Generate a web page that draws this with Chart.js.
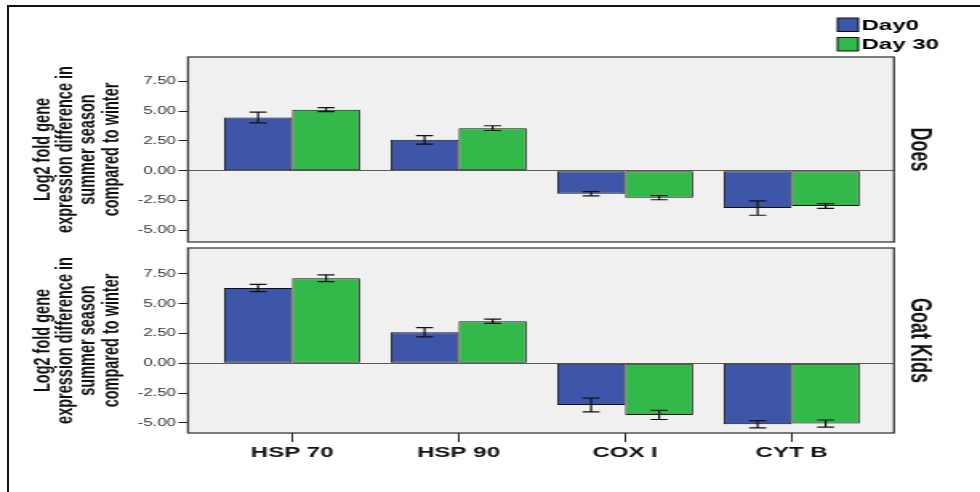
<!DOCTYPE html>
<html>
<head>
<meta charset="utf-8">
<script src="https://cdn.jsdelivr.net/npm/chart.js@4.4.1/dist/chart.umd.min.js"></script>
<style>
  html, body { margin: 0; padding: 0; background: #fff; }
  #fig { position: relative; width: 980px; height: 492px; overflow: hidden; background: #fff; }
  #frame { position: absolute; left: 7px; top: 5px; width: 1000px; height: 500px;
           border-top: 2px solid #111; border-left: 2px solid #111; box-sizing: border-box; }
  canvas { position: absolute; left: 0; }
</style>
</head>
<body>
<div id="fig">
  <div id="frame"></div>
  <!-- drawn on a narrower canvas and widened by CSS, giving the wide lettering of the figure -->
  <canvas id="panelDoes" width="612" height="245" style="top:0;width:980px;height:245px"></canvas>
  <canvas id="panelKids" width="612" height="247" style="top:245px;width:980px;height:247px"></canvas>
</div>
<script>
// ---- data ----
const categories = ['HSP 70', 'HSP 90', 'COX I', 'CYT B'];
const seriesNames = ['Day0', 'Day 30'];
const yTickValues = [-5, -2.5, 0, 2.5, 5, 7.5];
const yTitleLines = ['Log2 fold gene', 'expression difference in', 'summer season', 'compared to winter'];

// Does
const doesDay0 = [4.46, 2.59, -1.93, -3.13];
const doesDay30 = [5.12, 3.57, -2.26, -2.96];
const doesDay0Err = [0.45, 0.36, 0.18, 0.60];
const doesDay30Err = [0.17, 0.20, 0.17, 0.20];

// Goat kids
const kidsDay0 = [6.31, 2.60, -3.49, -5.11];
const kidsDay30 = [7.12, 3.52, -4.33, -5.05];
const kidsDay0Err = [0.31, 0.39, 0.58, 0.30];
const kidsDay30Err = [0.28, 0.18, 0.38, 0.30];

// ---- styling / layout ----
const FONT = "'Liberation Sans', Arial, Helvetica, sans-serif";
const seriesColors = ['#3e56aa', '#33b84a'];
const X_MIN = -0.625, X_MAX = 3.615;
const DOES_RANGE = [-5.97, 9.53];
const KIDS_RANGE = [-5.84, 9.66];

// fixed axis sizes, no automatic label overhang padding
function fixSize(s, w, h) {
  if (w !== null) s.width = w;
  if (h !== null) s.height = h;
  s.paddingTop = 0; s.paddingBottom = 0; s.paddingLeft = 0; s.paddingRight = 0;
}

// grey panel with a dark frame
const panelPlugin = {
  id: 'panelBox',
  beforeDraw(chart) {
    const { ctx, chartArea: a } = chart;
    ctx.save();
    ctx.fillStyle = '#f0f0f0';
    ctx.fillRect(a.left, a.top, a.right - a.left, a.bottom - a.top);
    ctx.restore();
  },
  afterDraw(chart) {
    const { ctx, chartArea: a } = chart;
    ctx.save();
    ctx.strokeStyle = '#3a3a3a';
    ctx.lineWidth = 1.3;
    ctx.strokeRect(a.left, a.top, a.right - a.left, a.bottom - a.top);
    ctx.restore();
  }
};

// error bars (value +/- error) drawn through the value scale
const errorBarPlugin = {
  id: 'errorBars',
  afterDatasetsDraw(chart) {
    const { ctx } = chart;
    const yScale = chart.scales.y;
    ctx.save();
    ctx.strokeStyle = '#111';
    ctx.lineWidth = 1.2;
    chart.data.datasets.forEach((ds, di) => {
      const meta = chart.getDatasetMeta(di);
      meta.data.forEach((bar, i) => {
        const v = ds.data[i], e = ds.errors[i];
        const y1 = yScale.getPixelForValue(v + e);
        const y2 = yScale.getPixelForValue(v - e);
        const x = bar.x, hw = 5.3;
        ctx.beginPath();
        ctx.moveTo(x, y1); ctx.lineTo(x, y2);
        ctx.moveTo(x - hw, y1); ctx.lineTo(x + hw, y1);
        ctx.moveTo(x - hw, y2); ctx.lineTo(x + hw, y2);
        ctx.stroke();
      });
    });
    ctx.restore();
  }
};

// stacked legend in the top-right corner
const boxLegendPlugin = {
  id: 'boxLegend',
  afterDraw(chart) {
    const { ctx } = chart;
    ctx.save();
    ctx.font = `bold 15px ${FONT}`;
    ctx.textBaseline = 'middle';
    ctx.textAlign = 'left';
    chart.data.datasets.forEach((ds, i) => {
      const top = 18 + i * 19.5;
      ctx.fillStyle = ds.backgroundColor;
      ctx.fillRect(523, top, 13, 13.5);
      ctx.strokeStyle = '#111';
      ctx.lineWidth = 1;
      ctx.strokeRect(523, top, 13, 13.5);
      ctx.fillStyle = '#000';
      ctx.fillText(ds.label, 538, top + 7.5);
    });
    ctx.restore();
  }
};

function buildPanel(canvasId, stripName, day0, day30, err0, err30, range, showX, padTop, padBottom, extraPlugins) {
  const barStyle = { borderColor: '#111', borderWidth: 1, borderSkipped: false,
                     categoryPercentage: 0.817, barPercentage: 1 };
  return new Chart(document.getElementById(canvasId), {
    type: 'bar',
    data: {
      labels: categories.map((_, i) => i),
      datasets: [
        Object.assign({ label: seriesNames[0], data: day0, errors: err0, backgroundColor: seriesColors[0] }, barStyle),
        Object.assign({ label: seriesNames[1], data: day30, errors: err30, backgroundColor: seriesColors[1] }, barStyle)
      ]
    },
    options: {
      responsive: false,
      animation: false,
      devicePixelRatio: 1,
      layout: { padding: { top: padTop, bottom: padBottom, left: 0, right: 0 } },
      plugins: { legend: { display: false }, tooltip: { enabled: false } },
      scales: {
        x: {
          type: 'linear', min: X_MIN, max: X_MAX, offset: false, display: showX,
          afterBuildTicks: s => { s.ticks = categories.map((_, i) => ({ value: i })); },
          afterFit: s => fixSize(s, null, showX ? 59 : 0),
          grid: { offset: false, drawOnChartArea: false, drawTicks: true, tickLength: 9, tickColor: '#222', lineWidth: 1 },
          border: { display: false },
          ticks: { padding: 2, color: '#111', autoSkip: false, maxRotation: 0,
                   font: { family: FONT, size: 15, weight: 'bold' },
                   callback: v => categories[v] }
        },
        y: {
          type: 'linear', position: 'left', min: range[0], max: range[1],
          afterBuildTicks: s => { s.ticks = yTickValues.map(v => ({ value: v })); },
          afterFit: s => fixSize(s, 117.4, null),
          grid: { color: c => (c.tick && c.tick.value === 0 ? '#5a5a5a' : 'rgba(0,0,0,0)'),
                  tickColor: '#222', tickLength: 6, lineWidth: 1, drawTicks: true },
          border: { display: false },
          ticks: { padding: 1.5, color: '#333', font: { family: FONT, size: 10.5 },
                   callback: v => Number(v).toFixed(2) },
          title: { display: true, text: yTitleLines, color: '#111',
                   font: { family: FONT, size: 14.5, weight: 'bold', lineHeight: 0.98 },
                   padding: { top: 19.9, bottom: 0 } }
        },
        strip: {
          type: 'linear', position: 'right', display: true,
          afterFit: s => fixSize(s, 53.7, null),
          grid: { display: false },
          border: { display: false },
          ticks: { display: false },
          title: { display: true, text: stripName, color: '#111',
                   font: { family: FONT, size: 18, weight: 'bold' },
                   padding: { top: 27.2, bottom: 0 } }
        }
      }
    },
    plugins: [panelPlugin, errorBarPlugin].concat(extraPlugins)
  });
}

buildPanel('panelDoes', 'Does', doesDay0, doesDay30, doesDay0Err, doesDay30Err,
           DOES_RANGE, false, 57, 3, [boxLegendPlugin]);
buildPanel('panelKids', 'Goat Kids', kidsDay0, kidsDay30, kidsDay0Err, kidsDay30Err,
           KIDS_RANGE, true, 3, 0, []);
</script>
</body>
</html>
